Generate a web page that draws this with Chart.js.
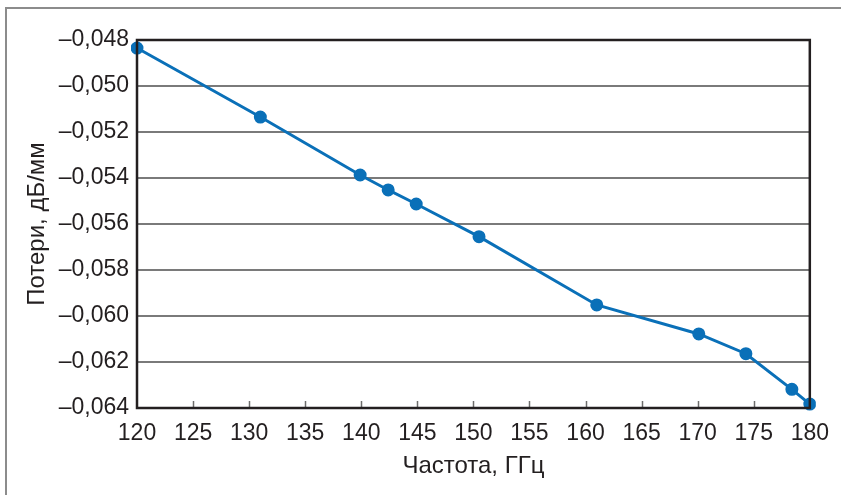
<!DOCTYPE html>
<html>
<head>
<meta charset="utf-8">
<script src="https://cdn.jsdelivr.net/npm/chart.js@4/dist/chart.umd.min.js"></script>
<style>
  html, body { margin: 0; padding: 0; background: #fff; }
  #wrap { width: 841px; height: 495px; position: relative; }
</style>
</head>
<body>
<div id="wrap"><canvas id="lossChart" width="841" height="495"></canvas></div>
<script>
// частота, ГГц
const freqs = [120, 131.0, 139.9, 142.4, 144.9, 150.5, 161.0, 170.1, 174.3, 178.4, 180];
// потери, дБ/мм
const losses = [-0.04835, -0.05135, -0.05387, -0.05452, -0.05513, -0.05655, -0.05952, -0.06078, -0.06164, -0.06319, -0.06383];

const xTicks = [120, 125, 130, 135, 140, 145, 150, 155, 160, 165, 170, 175, 180];
const yTicks = [-0.048, -0.050, -0.052, -0.054, -0.056, -0.058, -0.060, -0.062, -0.064];

const xTitle = 'Частота, ГГц';
const yTitle = 'Потери, дБ/мм';

const fontFamily = '"Liberation Sans", Arial, sans-serif';
const textColor = '#231f20';

function formatLoss(v) {
    return '\u2013' + Math.abs(v).toFixed(3).replace('.', ',');
}

// рамка вокруг рисунка и вокруг области графика, засечки внутрь
const framePlugin = {
    id: 'frames',
    beforeDraw(chart) {
        const ctx = chart.ctx;
        ctx.save();
        ctx.strokeStyle = '#8c8c8c';
        ctx.lineWidth = 2;
        ctx.beginPath();
        ctx.moveTo(6, chart.height);
        ctx.lineTo(6, 8);
        ctx.lineTo(chart.width, 8);
        ctx.stroke();
        ctx.restore();
    },
    afterDatasetsDraw(chart) {
        const ctx = chart.ctx;
        const a = chart.chartArea;
        const xs = chart.scales.x;
        ctx.save();
        ctx.strokeStyle = '#6d6d6d';
        ctx.lineWidth = 1.5;
        xTicks.forEach(t => {
            if (t === xTicks[0] || t === xTicks[xTicks.length - 1]) return;
            const px = Math.round(xs.getPixelForValue(t)) + 0.5;
            ctx.beginPath();
            ctx.moveTo(px, a.bottom);
            ctx.lineTo(px, a.bottom - 7);
            ctx.stroke();
        });
        ctx.strokeStyle = '#231f20';
        ctx.lineWidth = 2.5;
        ctx.strokeRect(a.left, a.top, a.right - a.left, a.bottom - a.top);
        ctx.restore();
    }
};

const ctx = document.getElementById('lossChart').getContext('2d');
new Chart(ctx, {
    type: 'scatter',
    data: {
        datasets: [{
            data: freqs.map((f, i) => ({ x: f, y: losses[i] })),
            showLine: true,
            borderColor: '#0a70b8',
            backgroundColor: '#0a70b8',
            borderWidth: 3,
            pointRadius: 5,
            pointHoverRadius: 5,
            clip: 6
        }]
    },
    options: {
        responsive: false,
        animation: false,
        layout: { padding: { top: 40, right: 30, left: 19, bottom: 0 } },
        plugins: {
            legend: { display: false },
            tooltip: { enabled: false }
        },
        scales: {
            x: {
                type: 'linear',
                min: 120,
                max: 180,
                afterBuildTicks: scale => { scale.ticks = xTicks.map(v => ({ value: v })); },
                afterFit: scale => { scale.height = 495 - 408; },
                grid: { display: false, drawTicks: false },
                border: { display: false },
                ticks: {
                    padding: 12,
                    maxRotation: 0,
                    color: textColor,
                    font: { family: fontFamily, size: 23 }
                },
                title: {
                    display: true,
                    text: xTitle,
                    color: textColor,
                    font: { family: fontFamily, size: 24 },
                    padding: { top: 0, bottom: 14 }
                }
            },
            y: {
                type: 'linear',
                min: -0.064,
                max: -0.048,
                afterBuildTicks: scale => { scale.ticks = yTicks.map(v => ({ value: v })); },
                afterFit: scale => { scale.width = 137 - 19; },
                grid: {
                    drawTicks: false,
                    color: '#7a7a7a',
                    lineWidth: 2
                },
                border: { display: false },
                ticks: {
                    padding: 8,
                    color: textColor,
                    font: { family: fontFamily, size: 23 },
                    callback: v => formatLoss(v)
                },
                title: {
                    display: true,
                    text: yTitle,
                    color: textColor,
                    font: { family: fontFamily, size: 24 },
                    padding: { top: 4, bottom: 0 }
                }
            }
        }
    },
    plugins: [framePlugin]
});
</script>
</body>
</html>
